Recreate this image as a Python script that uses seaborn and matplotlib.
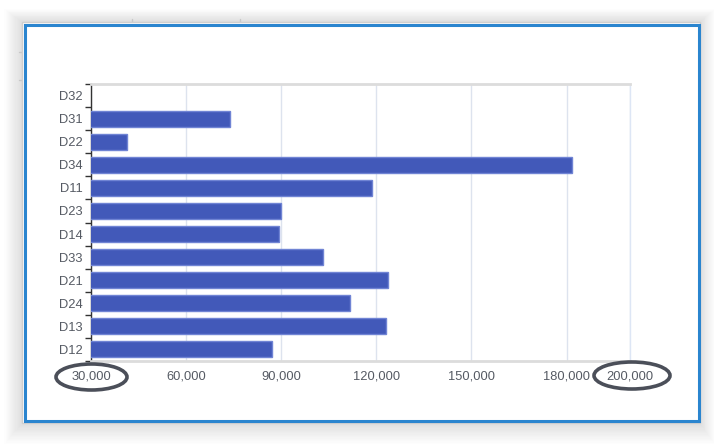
import matplotlib
matplotlib.use("Agg")
import matplotlib.pyplot as plt
import seaborn as sns
import pandas as pd
from matplotlib.patches import Rectangle, Ellipse
from matplotlib.lines import Line2D
from matplotlib.ticker import FuncFormatter, FixedLocator

categories = ["D32", "D31", "D22", "D34", "D11", "D23", "D14", "D33", "D21", "D24", "D13", "D12"]
values = [0, 73900, 41400, 181600, 118700, 90000, 89400, 103300, 123800, 111800, 123200, 87200]
xticks = [30000, 60000, 90000, 120000, 150000, 180000, 200000]

sns.set_theme(style="white")
plt.rcParams["font.family"] = ["Liberation Sans", "DejaVu Sans"]

W, H = 723, 447
fig = plt.figure(figsize=(W / 100, H / 100), dpi=100)
fig.patch.set_facecolor("white")

def fx(px):
    return px / W

def fy(py):
    return 1 - py / H

# soft shadow around the frame
for i in range(16, 0, -1):
    fig.patches.append(Rectangle((fx(22 - i * 1.1), fy(423 + i * 1.3)), fx(678 + i * 2.0), (401 + i * 1.3 + i * 0.8) / H,
                                 transform=fig.transFigure, facecolor="black", edgecolor="none",
                                 alpha=0.006, zorder=0))
# outer gray frame and inner white
fig.patches.append(Rectangle((fx(22), fy(423)), fx(678), 401 / H, transform=fig.transFigure,
                             facecolor="white", edgecolor="#cfcfcf", linewidth=1, zorder=1))
# ruler ticks
for x in [132, 240]:
    fig.lines.append(Line2D([fx(x), fx(x)], [fy(22), fy(19)], transform=fig.transFigure, color="#c8c8c8", lw=1, zorder=1))
for y in [52, 80]:
    fig.lines.append(Line2D([fx(22), fx(19)], [fy(y), fy(y)], transform=fig.transFigure, color="#c8c8c8", lw=1, zorder=1))
# blue frame
fig.patches.append(Rectangle((fx(25), fy(421)), fx(674), 396 / H, transform=fig.transFigure,
                             facecolor="white", edgecolor="#2a85cf", linewidth=2.2, zorder=2))

ax = fig.add_axes([fx(91), fy(361), fx(630 - 91), (361 - 84) / H])
ax.set_zorder(5)
ax.patch.set_alpha(0)

df = pd.DataFrame({"cat": categories, "val": values})
sns.barplot(data=df, y="cat", x="val", order=categories, orient="h", color="#4259b9",
            saturation=1, width=0.69, edgecolor="#7084d4", linewidth=1, ax=ax, zorder=3)

ax.set_xlim(30000, 200000)
ax.set_ylim(len(categories) - 0.5, -0.5)
ax.xaxis.set_major_locator(FixedLocator(xticks))
ax.xaxis.set_major_formatter(FuncFormatter(lambda v, p: f"{int(v):,}"))
ax.set_xlabel("")
ax.set_ylabel("")
ax.grid(axis="x", color="#dde3ee", linewidth=1, zorder=0)
ax.set_axisbelow(True)

ax.tick_params(axis="x", length=0, pad=7, labelsize=9.3, labelcolor="#555a63")
ax.tick_params(axis="y", which="major", length=0, pad=6, labelsize=9.3, labelcolor="#555a63")
ax.set_yticks([i + 0.5 for i in range(-1, len(categories))], minor=True)
ax.tick_params(axis="y", which="minor", length=4.5, width=1, color="#333333", left=True)

ax.spines["left"].set_color("#333333")
ax.spines["left"].set_linewidth(1)
ax.spines["top"].set_color("#dcdcdc")
ax.spines["top"].set_linewidth(2)
ax.spines["bottom"].set_color("#dcdcdc")
ax.spines["bottom"].set_linewidth(2)
ax.spines["right"].set_color("#dde6f5")
ax.spines["right"].set_linewidth(1)
for s in ax.spines.values():
    s.set_visible(True)

# annotation ellipses
for cx, cy, w, h in [(91.5, 377, 71, 26), (632, 375.5, 76, 27)]:
    fig.patches.append(Ellipse((fx(cx), fy(cy)), fx(w), h / H, transform=fig.transFigure,
                               facecolor="none", edgecolor="#4b4f59", linewidth=2.6, zorder=10))

fig.savefig("out.png", dpi=100)
